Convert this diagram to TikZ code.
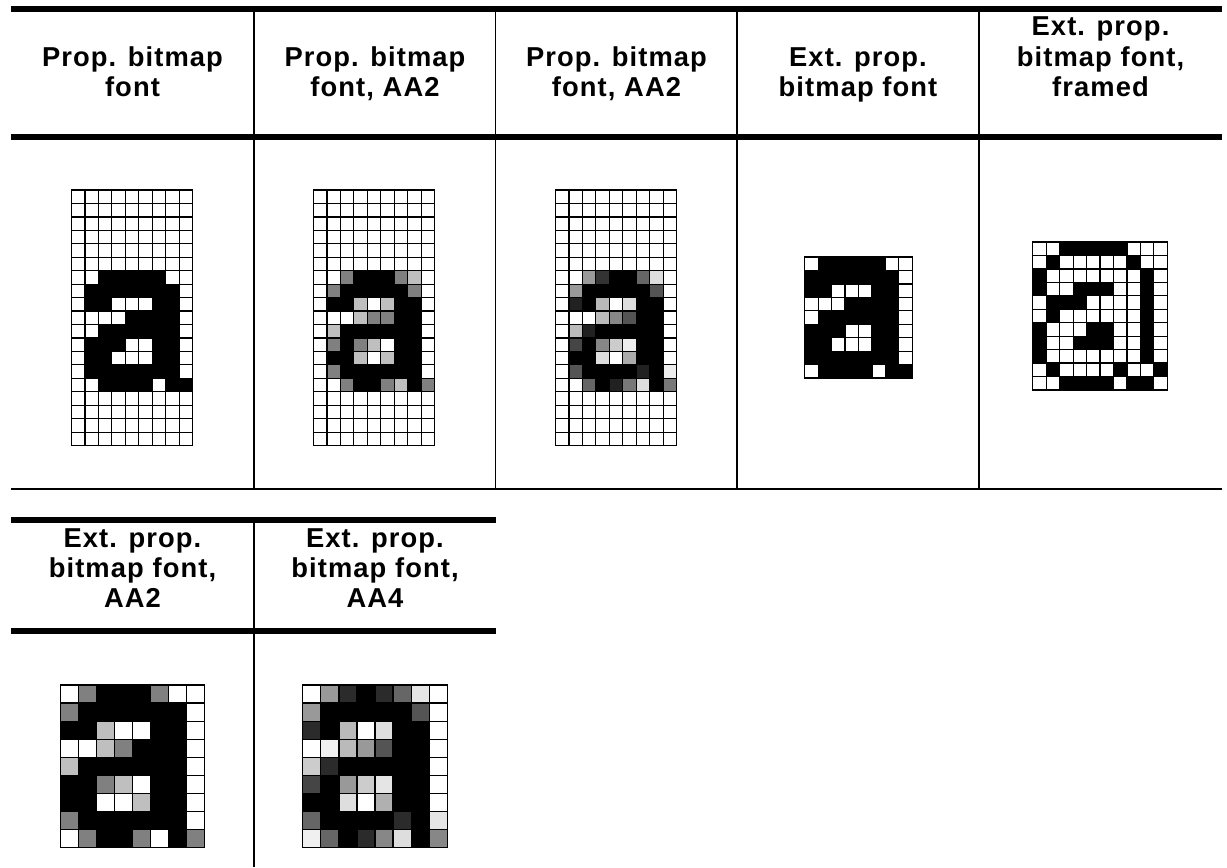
\documentclass[tikz,border=0pt]{standalone}
\usepackage{fontspec}
\setmainfont{Liberation Sans}
\newfontfamily\hdrfont{Liberation Sans}[LetterSpace=4]
\tikzset{
  pix/.style={draw=black, line width=0.9pt},
  thickrule/.style={line width=4.5pt},
  thinrule/.style={line width=0.9pt},
  hdr/.style={anchor=base, inner sep=0pt, font=\hdrfont\bfseries\fontsize{20.5}{22.5}\selectfont},
}
\newcommand{\bmgrid}[4]{% left, top, cell, rows
  \begin{scope}[shift={(#1,#2)}]
  \foreach \rowdata [count=\r from 0] in {#4} {
    \foreach \v [count=\c from 0] in \rowdata {
      \filldraw[pix, fill=white!\v!black] (\c*#3,\r*#3) rectangle ++(#3,#3);
    }
  }
  \end{scope}
}
\newcommand{\hdrtext}[1]{\begin{tabular}[b]{@{}c@{}}#1\end{tabular}}
\begin{document}
\begin{tikzpicture}[x=0.75pt,y=-0.75pt]
\useasboundingbox (0,0) rectangle (1227,867);
% ---- table 1 rules
\coordinate (t1l) at (11,9);
\coordinate (t1r) at (1222,9);
\draw[thickrule] (t1l) -- (t1r);
\draw[thickrule] (11,137) -- (1222,137);
\draw[thinrule] (11,489) -- (1222,489);
\foreach \xx in {254,495.5,737,979} {
  \draw[thinrule] (\xx,12) -- (\xx,489);
}
% ---- table 2 rules
\draw[thickrule] (11,520) -- (495.5,520);
\draw[thickrule] (11,631) -- (495.5,631);
\draw[thinrule] (254,523) -- (254,867);
% ---- headers
\node[hdr] (h1) at (132.5,96) {\hdrtext{Prop. bitmap\\font}};
\node[hdr] (h2) at (375,96) {\hdrtext{Prop. bitmap\\font, AA2}};
\node[hdr] (h3) at (616.5,96) {\hdrtext{Prop. bitmap\\font, AA2}};
\node[hdr] (h4) at (858,96) {\hdrtext{Ext. prop.\\bitmap font}};
\node[hdr] (h5) at (1100.5,96) {\hdrtext{Ext. prop.\\bitmap font,\\framed}};
\node[hdr] (h6) at (132.5,607) {\hdrtext{Ext. prop.\\bitmap font,\\AA2}};
\node[hdr] (h7) at (375,607) {\hdrtext{Ext. prop.\\bitmap font,\\AA4}};
% ---- grid 1: prop. bitmap font
\bmgrid{71.5}{190}{13.45}{
{100,100,100,100,100,100,100,100,100},
{100,100,100,100,100,100,100,100,100},
{100,100,100,100,100,100,100,100,100},
{100,100,100,100,100,100,100,100,100},
{100,100,100,100,100,100,100,100,100},
{100,100,100,100,100,100,100,100,100},
{100,100,0,0,0,0,0,100,100},
{100,0,0,0,0,0,0,0,100},
{100,0,0,100,100,100,0,0,100},
{100,100,100,100,0,0,0,0,100},
{100,100,0,0,0,0,0,0,100},
{100,0,0,0,100,100,0,0,100},
{100,0,0,100,100,100,0,0,100},
{100,0,0,0,0,0,0,0,100},
{100,100,0,0,0,0,100,0,0},
{100,100,100,100,100,100,100,100,100},
{100,100,100,100,100,100,100,100,100},
{100,100,100,100,100,100,100,100,100},
{100,100,100,100,100,100,100,100,100}}
% ---- grid 2: AA2
\bmgrid{313.5}{190}{13.45}{
{100,100,100,100,100,100,100,100,100},
{100,100,100,100,100,100,100,100,100},
{100,100,100,100,100,100,100,100,100},
{100,100,100,100,100,100,100,100,100},
{100,100,100,100,100,100,100,100,100},
{100,100,100,100,100,100,100,100,100},
{100,100,50,0,0,0,50,75,100},
{100,50,0,0,0,0,0,50,100},
{100,0,0,75,100,75,0,0,100},
{100,100,100,75,50,50,0,0,100},
{100,75,0,0,0,0,0,0,100},
{100,50,0,50,75,100,0,0,100},
{100,0,0,75,100,75,0,0,100},
{100,50,0,0,0,0,0,0,100},
{100,100,50,0,0,50,75,0,50},
{100,100,100,100,100,100,100,100,100},
{100,100,100,100,100,100,100,100,100},
{100,100,100,100,100,100,100,100,100},
{100,100,100,100,100,100,100,100,100}}
% ---- grid 3: AA4
\bmgrid{555.5}{190}{13.45}{
{100,100,100,100,100,100,100,100,100},
{100,100,100,100,100,100,100,100,100},
{100,100,100,100,100,100,100,100,100},
{100,100,100,100,100,100,100,100,100},
{100,100,100,100,100,100,100,100,100},
{100,100,100,100,100,100,100,100,100},
{100,100,60,20,0,0,40,87,100},
{100,60,0,0,0,0,0,33,100},
{100,13,0,73,100,87,0,0,100},
{100,100,100,73,53,33,0,0,100},
{100,73,13,0,0,0,0,0,100},
{100,27,0,53,80,93,0,0,100},
{100,0,0,87,100,67,0,0,100},
{100,33,0,0,0,0,13,0,93},
{100,100,40,0,13,47,87,0,47},
{100,100,100,100,100,100,100,100,100},
{100,100,100,100,100,100,100,100,100},
{100,100,100,100,100,100,100,100,100},
{100,100,100,100,100,100,100,100,100}}
% ---- grid 4: ext. prop.
\bmgrid{804.7}{257}{13.45}{
{100,0,0,0,0,0,100,100},
{0,0,0,0,0,0,0,100},
{0,0,100,100,100,0,0,100},
{100,100,100,0,0,0,0,100},
{100,0,0,0,0,0,0,100},
{0,0,0,100,100,0,0,100},
{0,0,100,100,100,0,0,100},
{0,0,0,0,0,0,0,100},
{100,0,0,0,0,100,0,0}}
% ---- grid 5: framed
\bmgrid{1032.75}{242}{13.45}{
{100,100,0,0,0,0,0,100,100,100},
{100,0,100,100,100,100,100,0,100,100},
{0,100,100,100,100,100,100,100,0,100},
{0,100,100,0,0,0,100,100,0,100},
{100,0,0,0,100,100,100,100,0,100},
{100,0,100,100,100,100,100,100,0,100},
{0,100,100,100,0,0,100,100,0,100},
{0,100,100,0,0,0,100,100,0,100},
{0,100,100,100,100,100,100,100,0,100},
{100,0,100,100,100,100,0,100,100,0},
{100,100,0,0,0,0,100,0,0,100}}
% ---- grid 6: ext AA2
\bmgrid{60.3}{685}{18.05}{
{100,50,0,0,0,50,100,100},
{50,0,0,0,0,0,0,100},
{0,0,75,100,100,0,0,100},
{100,100,75,50,0,0,0,100},
{75,0,0,0,0,0,0,100},
{0,0,50,75,100,0,0,100},
{0,0,100,100,75,0,0,100},
{50,0,0,0,0,0,0,100},
{100,50,0,0,50,100,0,50}}
% ---- grid 7: ext AA4
\bmgrid{302.8}{685}{18.05}{
{100,60,17,0,17,40,90,100},
{60,0,0,0,0,0,33,100},
{17,0,73,100,87,0,0,100},
{100,94,73,60,33,0,0,100},
{80,17,0,0,0,0,0,100},
{27,0,60,80,90,0,0,100},
{0,0,87,100,69,0,0,100},
{40,0,0,0,0,17,0,90},
{94,40,0,17,53,87,0,53}}
\end{tikzpicture}
\end{document}
